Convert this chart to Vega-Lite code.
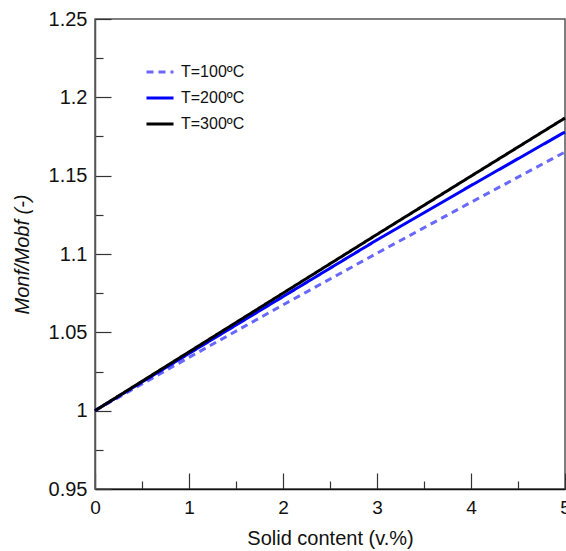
{
  "$schema": "https://vega.github.io/schema/vega-lite/v6.json",
  "width": 470,
  "height": 470,
  "autosize": {"type": "none"},
  "padding": {"left": 95, "top": 19, "right": 1, "bottom": 62},
  "background": "white",
  "config": {
    "font": "Liberation Sans",
    "view": {"stroke": "#555555", "strokeWidth": 1.5}
  },
  "data": {
    "values": [
      {"x": 0, "y": 1.0, "T": "T=100ºC"},
      {"x": 1, "y": 1.034, "T": "T=100ºC"},
      {"x": 2, "y": 1.0675, "T": "T=100ºC"},
      {"x": 3, "y": 1.1005, "T": "T=100ºC"},
      {"x": 4, "y": 1.133, "T": "T=100ºC"},
      {"x": 5, "y": 1.1651, "T": "T=100ºC"},
      {"x": 0, "y": 1.0, "T": "T=200ºC"},
      {"x": 1, "y": 1.0365, "T": "T=200ºC"},
      {"x": 2, "y": 1.0728, "T": "T=200ºC"},
      {"x": 3, "y": 1.109, "T": "T=200ºC"},
      {"x": 4, "y": 1.1437, "T": "T=200ºC"},
      {"x": 5, "y": 1.1779, "T": "T=200ºC"},
      {"x": 0, "y": 1.0, "T": "T=300ºC"},
      {"x": 1, "y": 1.0375, "T": "T=300ºC"},
      {"x": 2, "y": 1.075, "T": "T=300ºC"},
      {"x": 3, "y": 1.1125, "T": "T=300ºC"},
      {"x": 4, "y": 1.1497, "T": "T=300ºC"},
      {"x": 5, "y": 1.1868, "T": "T=300ºC"}
    ]
  },
  "resolve": {"axis": {"x": "independent", "y": "independent"}},
  "layer": [
    {
      "mark": {"type": "line", "opacity": 0},
      "encoding": {
        "x": {"field": "x", "type": "quantitative", "scale": {"domain": [0, 5], "nice": false},
          "axis": {"orient": "bottom", "values": [0.5, 1.5, 2.5, 3.5, 4.5], "labels": false, "domain": false, "grid": false, "title": null, "tickSize": -8, "tickColor": "#333333", "tickWidth": 1.2}},
        "y": {"field": "y", "type": "quantitative", "scale": {"domain": [0.95, 1.25], "nice": false, "zero": false},
          "axis": {"orient": "left", "values": [0.975, 1.025, 1.075, 1.125, 1.175, 1.225], "labels": false, "domain": false, "grid": false, "title": null, "tickSize": -8, "tickColor": "#333333", "tickWidth": 1.2}}
      }
    },
    {
      "mark": {"type": "line", "strokeWidth": 3},
      "encoding": {
        "x": {"field": "x", "type": "quantitative", "scale": {"domain": [0, 5], "nice": false},
          "axis": {"orient": "bottom", "values": [0, 1, 2, 3, 4, 5], "grid": false, "title": "Solid content (v.%)", "tickSize": -16, "tickColor": "#333333", "tickWidth": 1.2, "domainColor": "#111111", "domainWidth": 1.5, "labelFontSize": 19, "labelColor": "#111111", "labelPadding": 25, "titleFontSize": 20, "titleFontWeight": "normal", "titleColor": "#111111", "titlePadding": 11, "labelFlush": false, "labelOverlap": false}},
        "y": {"field": "y", "type": "quantitative", "scale": {"domain": [0.95, 1.25], "nice": false, "zero": false},
          "axis": {"orient": "left", "values": [0.95, 1.0, 1.05, 1.1, 1.15, 1.2, 1.25], "format": ".2~f", "grid": false, "title": "Monf/Mobf (-)", "tickSize": -16, "tickColor": "#333333", "tickWidth": 1.2, "domainColor": "#555555", "domainWidth": 1.5, "labelFontSize": 20, "labelColor": "#111111", "labelPadding": 24, "titleFontSize": 20, "titleFontWeight": "normal", "titleFontStyle": "italic", "titleColor": "#111111", "titlePadding": 16, "labelFlush": false, "labelOverlap": false}},
        "color": {"field": "T", "type": "nominal",
          "scale": {"domain": ["T=100ºC", "T=200ºC", "T=300ºC"], "range": ["#6868ff", "#0000ff", "#000000"]},
          "legend": {"orient": "none", "legendX": 50, "legendY": 38, "title": null, "symbolType": "stroke", "symbolStrokeWidth": 3, "symbolSize": 729, "labelFontSize": 16, "labelColor": "#111111", "rowPadding": 3, "labelOffset": 6}},
        "strokeDash": {"field": "T", "type": "nominal",
          "scale": {"domain": ["T=100ºC", "T=200ºC", "T=300ºC"], "range": [[7, 5], [1, 0], [1, 0]]},
          "legend": {"orient": "none", "legendX": 50, "legendY": 38, "title": null, "symbolType": "stroke", "symbolStrokeWidth": 3, "symbolSize": 729, "labelFontSize": 16, "labelColor": "#111111", "rowPadding": 3, "labelOffset": 6}}
      }
    }
  ]
}
